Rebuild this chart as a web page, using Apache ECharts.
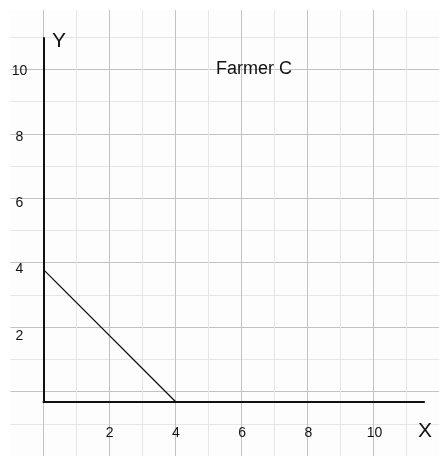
<!DOCTYPE html>
<html>
<head>
<meta charset="utf-8">
<script src="https://cdn.jsdelivr.net/npm/echarts@6/dist/echarts.min.js"></script>
<style>
  html, body { margin: 0; padding: 0; background: #fff; }
  #main { width: 439px; height: 456px; }
</style>
</head>
<body>
<div id="main"></div>
<script>
// data
var titleText = 'Farmer C';
var lineX = [0, 4];
var lineY = [4, 0];
var xTickLabels = [2, 4, 6, 8, 10];
var yTickLabels = [2, 4, 6, 8, 10];

var chart = echarts.init(document.getElementById('main'));

function tickFormatter(list) {
    return function (v) {
        return list.indexOf(v) >= 0 ? String(v) : '';
    };
}

var option = {
    backgroundColor: '#fff',
    animation: false,
    grid: [
        // background grid lines
        { left: 10.4, top: 10.1, width: 430.3, height: 458.1, show: true, backgroundColor: '#fdfdfd', borderWidth: 0 },
        // axes + data
        { left: 43.5, top: 37.9, width: 380.65, height: 364.1 }
    ],
    xAxis: [
        {
            gridIndex: 0, type: 'value', min: -1, max: 12, interval: 1,
            axisLine: { show: false }, axisTick: { show: false }, axisLabel: { show: false },
            splitLine: {
                show: true, showMinLine: false, showMaxLine: false,
                lineStyle: { color: ['#c2c2c2', '#e6e6e6'], width: 1 }
            }
        },
        {
            gridIndex: 1, type: 'value', min: 0, max: 11.5, interval: 2,
            axisLine: { show: true, onZero: false, lineStyle: { color: '#111', width: 2 } },
            axisTick: { show: false },
            splitLine: { show: false },
            axisLabel: {
                margin: 24, color: '#111', fontSize: 14, fontFamily: 'Liberation Sans, Arial, sans-serif',
                showMinLabel: false, showMaxLabel: false,
                formatter: tickFormatter(xTickLabels)
            }
        }
    ],
    yAxis: [
        {
            gridIndex: 0, type: 'value', min: -2, max: 11.84, interval: 1,
            axisLine: { show: false }, axisTick: { show: false }, axisLabel: { show: false },
            splitLine: {
                show: true, showMinLine: false, showMaxLine: false,
                lineStyle: { color: ['#e6e6e6', '#c2c2c2'], width: 1 }
            }
        },
        {
            gridIndex: 1, type: 'value', min: 0, max: 11, interval: 2,
            axisLine: { show: true, onZero: false, lineStyle: { color: '#111', width: 2 } },
            axisTick: { show: false },
            splitLine: { show: false },
            axisLabel: {
                margin: 24, align: 'center', color: '#111', fontSize: 14, fontFamily: 'Liberation Sans, Arial, sans-serif',
                showMinLabel: false, showMaxLabel: false,
                formatter: tickFormatter(yTickLabels)
            }
        }
    ],
    graphic: [
        { type: 'text', left: 216, top: 60, z: 100, style: { text: titleText, font: '18px "Liberation Sans", Arial, sans-serif', fill: '#111' } },
        { type: 'text', left: 52, top: 31, z: 100, style: { text: 'Y', font: '21px "Liberation Sans", Arial, sans-serif', fill: '#111' } },
        { type: 'text', left: 418, top: 421, z: 100, style: { text: 'X', font: '21px "Liberation Sans", Arial, sans-serif', fill: '#111' } }
    ],
    series: [
        {
            type: 'line',
            xAxisIndex: 1, yAxisIndex: 1,
            data: lineX.map(function (x, i) { return [x, lineY[i]]; }),
            symbol: 'none',
            lineStyle: { color: '#111', width: 1.3 },
            z: 5
        }
    ]
};

chart.setOption(option);
</script>
</body>
</html>
